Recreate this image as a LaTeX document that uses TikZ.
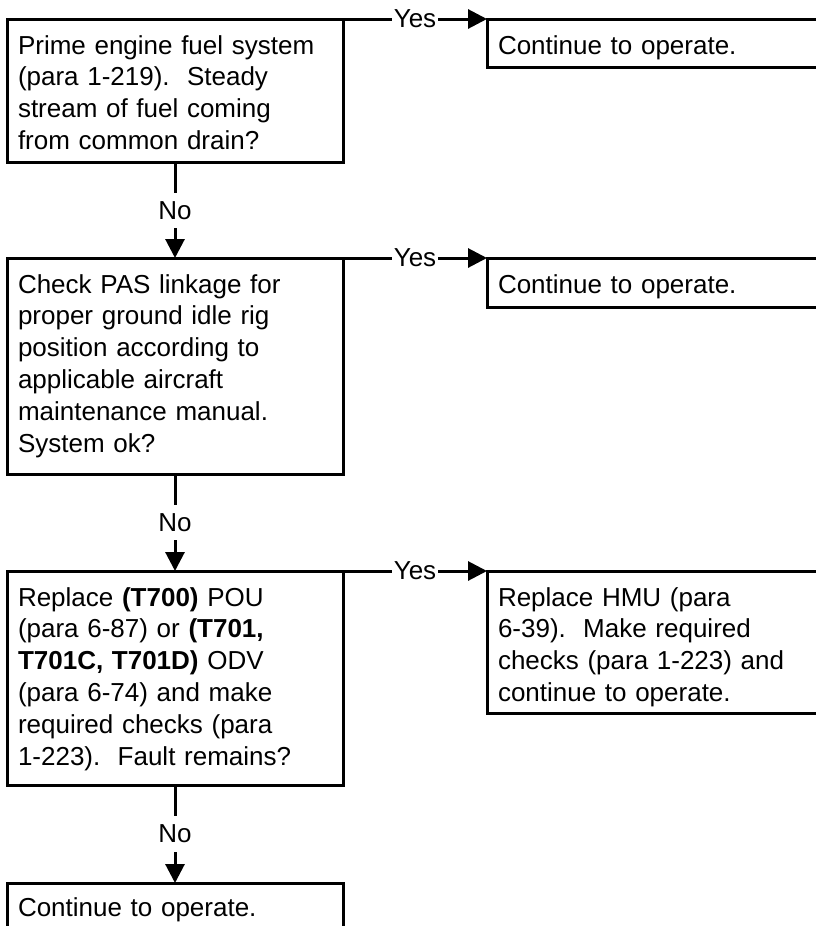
\documentclass[tikz,border=0pt]{standalone}
\usepackage{fontspec}
\setmainfont{Liberation Sans}
\usetikzlibrary{arrows.meta}
% invisible struts: space above the first baseline and below the last one
\newcommand\topgap[1][35]{\rule{0pt}{#1pt}}
\newcommand\botgap[1]{\rule[-#1pt]{0pt}{#1pt}}
\frenchspacing
\begin{document}
\begin{tikzpicture}[x=1pt,y=-1pt,
  every node/.style={font=\fontsize{26}{31.8}\selectfont},
  box/.style={draw, line width=3pt, anchor=north west, outer sep=0pt,
    inner xsep=11pt, inner ysep=0pt, align=left},
  leftbox/.style={box, text width=314pt},
  rightbox/.style={box, text width=340pt},
  link/.style={line width=3pt, -{Triangle[length=19pt,width=19pt]}},
  tag/.style={fill=white, inner xsep=2pt, inner ysep=8.5pt}]
\useasboundingbox (0,0) rectangle (816,926);
\clip (0,0) rectangle (816,926);

% decision boxes (left column)
\node[leftbox] (b1) at (7,19) {\topgap Prime engine fuel system\\
  (para 1-219).~ Steady\\ stream of fuel coming\\ from common drain?\botgap{13}};
\node[leftbox] (b2) at (7,258) {\topgap Check PAS linkage for\\
  proper ground idle rig\\ position according to\\ applicable aircraft\\
  maintenance manual.\\ System ok?\botgap{22}};
\node[leftbox] (b3) at (7,571) {\topgap Replace \textbf{(T700)} POU\\
  (para 6-87) or \textbf{(T701,}\\ \textbf{T701C, T701D)} ODV\\
  (para 6-74) and make\\ required checks (para\\ 1-223).~ Fault remains?\botgap{20}};
\node[leftbox] (b4) at (7,883) {\topgap[33]Continue to operate.\botgap{40}};

% outcome boxes (right column)
\node[rightbox] (r1) at (487,19) {\topgap Continue to operate.\botgap{13}};
\node[rightbox] (r2) at (487,258) {\topgap Continue to operate.\botgap{14}};
\node[rightbox] (r3) at (487,571) {\topgap Replace HMU (para\\
  6-39).~ Make required\\ checks (para 1-223) and\\ continue to operate.\botgap{12}};

% Yes branches
\draw[link] (b1.north east) -- node[tag]{Yes} (r1.north west);
\draw[link] (b2.north east) -- node[tag]{Yes} (r2.north west);
\draw[link] (b3.north east) -- node[tag]{Yes} (r3.north west);

% No branches
\draw[link] (b1.south) -- node[tag]{No} (b2.north);
\draw[link] (b2.south) -- node[tag]{No} (b3.north);
\draw[link] (b3.south) -- node[tag]{No} (b4.north);
\end{tikzpicture}
\end{document}
